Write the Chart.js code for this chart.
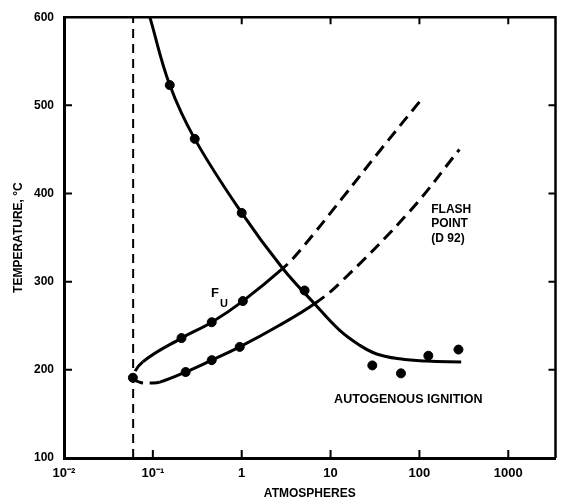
<!DOCTYPE html>
<html>
<head>
<meta charset="utf-8">
<script src="https://cdn.jsdelivr.net/npm/chart.js@4"></script>
<style>
  html, body { margin: 0; padding: 0; background: #fff; }
  #wrap { width: 561px; height: 503px; }
</style>
</head>
<body>
<div id="wrap"><canvas id="chart" width="561" height="503"></canvas></div>
<script>
// autogenous ignition: fitted curve and measured points
const autoCurveP = [0.0925, 0.155, 0.296, 1.0, 2.9, 6.6, 12.6, 21.2, 33, 60, 120, 295];
const autoCurveT = [600, 523, 462, 378, 315, 275, 245, 228, 218, 212.5, 210, 209];
const autoDotP = [0.155, 0.296, 1.0, 5.1, 29.5, 62, 126, 275];
const autoDotT = [523, 462, 378, 290, 205, 196, 216, 223];

// flammability limits loop (upper end -> tip -> lower end)
const limitCurveP = [100, 35.5, 13.6, 4.5, 2.9, 1.03, 0.46, 0.21, 0.077, 0.0596, 0.071, 0.0975, 0.12, 0.234, 0.46, 0.95, 2.6, 6.6, 12.6, 78, 282];
const limitCurveT = [504, 448, 395, 335, 315, 278, 254, 236, 209, 191, 186, 185, 186, 197.5, 211, 226, 250, 275, 298, 380, 450];
const limitDashedSegs = [0, 1, 2, 3, 8, 9, 10, 11, 17, 18, 19];
const limitDotP = [0.21, 0.46, 1.03, 0.0596, 0.234, 0.46, 0.95];
const limitDotT = [236, 254, 278, 191, 197.5, 211, 226];

// vertical dashed line
const vapLineP = [0.06, 0.06];
const vapLineT = [100, 600];

const xTicks = [0.01, 0.1, 1, 10, 100, 1000];
const xTickLabels = ['10⁻²', '10⁻¹', '1', '10', '100', '1000'];
const yTicks = [100, 200, 300, 400, 500, 600];

const FONT = '"Liberation Sans", Arial, sans-serif';

function pts(xs, ys) {
    return xs.map((x, i) => ({ x: x, y: ys[i] }));
}

const framePlugin = {
    id: 'frame',
    afterDraw(chart) {
        const ctx = chart.ctx;
        const a = chart.chartArea;
        const xs = chart.scales.x;
        const ys = chart.scales.y;
        ctx.save();
        ctx.strokeStyle = '#000';
        ctx.lineWidth = 2.5;
        ctx.beginPath();
        ctx.moveTo(a.left, a.top);
        ctx.lineTo(a.right, a.top);
        ctx.lineTo(a.right, a.bottom);
        ctx.stroke();

        ctx.lineWidth = 2;
        ctx.beginPath();
        [0.1, 1, 10, 100, 1000].forEach(v => {
            const px = xs.getPixelForValue(v);
            ctx.moveTo(px, a.bottom);
            ctx.lineTo(px, a.bottom - 8);
        });
        [1, 10, 100, 1000].forEach(v => {
            const px = xs.getPixelForValue(v);
            ctx.moveTo(px, a.top);
            ctx.lineTo(px, a.top + 7);
        });
        [200, 300, 400, 500].forEach(v => {
            const py = ys.getPixelForValue(v);
            ctx.moveTo(a.left, py);
            ctx.lineTo(a.left + 8, py);
            ctx.moveTo(a.right, py);
            ctx.lineTo(a.right - 7, py);
        });
        ctx.stroke();

        // text labels
        ctx.fillStyle = '#000';
        ctx.textBaseline = 'middle';
        ctx.font = 'bold 13px ' + FONT;
        ctx.textAlign = 'left';
        const fx = xs.getPixelForValue(0.45);
        const fy = ys.getPixelForValue(287);
        ctx.fillText('F', fx, fy);
        ctx.font = 'bold 11px ' + FONT;
        ctx.fillText('U', fx + 9, fy + 11);

        ctx.font = 'bold 12px ' + FONT;
        const lx = xs.getPixelForValue(136);
        const ly = ys.getPixelForValue(382);
        ctx.fillText('FLASH', lx, ly);
        ctx.fillText('POINT', lx, ly + 14.5);
        ctx.fillText('(D 92)', lx, ly + 29);

        ctx.textAlign = 'center';
        ctx.font = 'bold 12.5px ' + FONT;
        ctx.fillText('AUTOGENOUS IGNITION', xs.getPixelForValue(75), ys.getPixelForValue(166));
        ctx.restore();
    }
};

new Chart(document.getElementById('chart'), {
    type: 'scatter',
    data: {
        datasets: [
            {
                data: pts(vapLineP, vapLineT),
                showLine: true,
                borderColor: '#000',
                borderWidth: 2,
                borderDash: [9, 6],
                pointRadius: 0
            },
            {
                data: pts(autoCurveP, autoCurveT),
                showLine: true,
                borderColor: '#000',
                borderWidth: 3,
                tension: 0.4,
                pointRadius: 0
            },
            {
                data: pts(limitCurveP, limitCurveT),
                showLine: true,
                borderColor: '#000',
                borderWidth: 3,
                tension: 0.4,
                pointRadius: 0,
                segment: {
                    borderDash: ctx => limitDashedSegs.includes(ctx.p0DataIndex) ? [12, 7] : undefined
                }
            },
            {
                data: pts(autoDotP, autoDotT),
                backgroundColor: '#000',
                borderColor: '#000',
                pointRadius: 4.5
            },
            {
                data: pts(limitDotP, limitDotT),
                backgroundColor: '#000',
                borderColor: '#000',
                pointRadius: 4.5
            }
        ]
    },
    options: {
        responsive: false,
        animation: false,
        layout: { padding: { top: 15, right: 4, left: 0, bottom: 0 } },
        plugins: { legend: { display: false }, tooltip: { enabled: false } },
        scales: {
            x: {
                type: 'logarithmic',
                min: 0.01,
                max: 3400,
                afterBuildTicks: scale => { scale.ticks = xTicks.map(v => ({ value: v })); },
                afterFit: scale => { scale.height = 45; },
                grid: { display: false, drawTicks: false },
                border: { display: true, color: '#000', width: 3 },
                ticks: {
                    color: '#000',
                    padding: 8,
                    maxRotation: 0,
                    autoSkip: false,
                    font: { family: FONT, size: 13, weight: 'bold' },
                    callback: (v) => {
                        const i = xTicks.indexOf(v);
                        return i >= 0 ? xTickLabels[i] : '';
                    }
                },
                title: {
                    display: true,
                    text: 'ATMOSPHERES',
                    color: '#000',
                    font: { family: FONT, size: 12, weight: 'bold' },
                    padding: { top: 0, bottom: 2 }
                }
            },
            y: {
                min: 100,
                max: 600,
                afterBuildTicks: scale => { scale.ticks = yTicks.map(v => ({ value: v })); },
                afterFit: scale => { scale.width = 64; },
                grid: { display: false, drawTicks: false },
                border: { display: true, color: '#000', width: 3 },
                ticks: {
                    color: '#000',
                    padding: 10,
                    font: { family: FONT, size: 12, weight: 'bold' }
                },
                title: {
                    display: true,
                    text: 'TEMPERATURE, °C',
                    color: '#000',
                    font: { family: FONT, size: 12, weight: 'bold' },
                    padding: { top: 11, bottom: 0 }
                }
            }
        }
    },
    plugins: [framePlugin]
});
</script>
</body>
</html>
